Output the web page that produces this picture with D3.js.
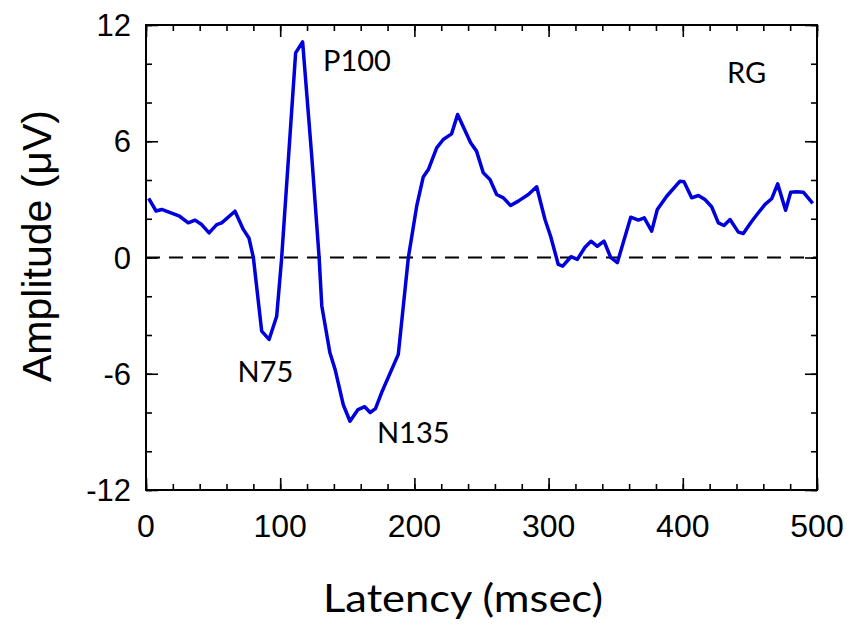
<!DOCTYPE html>
<html>
<head>
<meta charset="utf-8">
<script src="https://cdn.jsdelivr.net/npm/d3@7"></script>
<style>
  body { margin: 0; background: #fff; }
</style>
</head>
<body>
<div id="graph1"></div>
<script>
// ERP waveform data
var latency = [2, 7.5, 11.7, 16.6, 25, 31.5, 36.5, 41.5, 47, 52.7, 56.4, 66.3, 72.5, 76.7, 80,
    86.2, 91.7, 97.4, 101, 111.5, 116.7, 123.5, 129, 131, 137, 141, 147, 152, 158, 163, 167, 171, 176, 188, 195.5,
    201.7, 206.6, 210.4, 216.6, 221.5, 227.7, 232.2, 241.9, 246.3, 251.3, 256.3, 261.3, 266.3, 271.7, 277.4, 284.9, 291.1,
    297.3, 301.5, 307.2, 310.5, 316.7, 321.4, 327.1, 331.6, 336.3, 341.3, 346.3, 351.2, 361.2, 366.9, 371.3, 376.8,
    381, 388, 397.9, 400.9, 406.6, 411.6, 416.5, 421.5, 426.5, 430.7, 435.2, 441.4, 445.1, 451.4, 456.3, 461.3,
    466.2, 470.7, 476.6, 480.4, 484.8, 489.8, 496.8];
var amplitude = [3.05, 2.4, 2.48, 2.36, 2.13, 1.79, 1.93, 1.7, 1.27, 1.7, 1.79, 2.39, 1.45, 1.01, 0,
    -3.8, -4.23, -3.03, -0.1, 10.56, 11.13, 5.23, 0, -2.5, -4.9, -5.8, -7.6, -8.45, -7.85, -7.7, -8.0, -7.8, -6.9, -5.0, 0,
    2.65, 4.16, 4.54, 5.66, 6.09, 6.38, 7.38, 5.92, 5.49, 4.37, 4.03, 3.25, 3.08, 2.68, 2.91, 3.25, 3.65,
    1.96, 1.1, -0.36, -0.45, 0.04, -0.1, 0.53, 0.84, 0.58, 0.84, 0, -0.27, 2.08, 1.93, 2.05, 1.36,
    2.48, 3.16, 3.94, 3.91, 3.08, 3.2, 2.99, 2.62, 1.79, 1.65, 1.96, 1.31, 1.24, 1.87, 2.31, 2.74,
    3.03, 3.8, 2.44, 3.37, 3.39, 3.37, 2.79];

var xTicks = [0, 100, 200, 300, 400, 500];
var yTicks = [-12, -6, 0, 6, 12];
var peakNames = ["N75", "P100", "N135"];
var peakLatency = [92, 117, 152];
var peakAmplitude = [-4.23, 11.13, -8.45];

var w = 852;
var h = 627;

var svg = d3.select("#graph1")
    .append("svg")
    .attr("width", w)
    .attr("height", h);

var xScale = d3.scaleLinear().domain([0, 500]).range([146, 817]);
var yScale = d3.scaleLinear().domain([-12, 12]).range([490, 25]);

var dataset = latency.map(function (d, i) {
    return { t: d, v: amplitude[i] };
});

// frame with inward ticks on all four sides
var minorX = d3.range(0, 501, 20);
var minorY = d3.range(-12, 13, 2);

function axisSide(axis, ticks, pos) {
    return svg.append("g")
        .attr("transform", pos)
        .call(axis.tickValues(ticks).tickFormat("").tickSizeOuter(0))
        .call(function (g) {
            g.selectAll("line").attr("stroke", "#000").attr("stroke-width", 1.6);
            g.select(".domain").remove();
        });
}

// minor + major ticks
axisSide(d3.axisTop(xScale).tickSize(6), minorX, "translate(0,490)");
axisSide(d3.axisTop(xScale).tickSize(12), xTicks, "translate(0,490)");
axisSide(d3.axisBottom(xScale).tickSize(6), minorX, "translate(0,25)");
axisSide(d3.axisBottom(xScale).tickSize(12), xTicks, "translate(0,25)");
axisSide(d3.axisRight(yScale).tickSize(6), minorY, "translate(146,0)");
axisSide(d3.axisRight(yScale).tickSize(12), yTicks, "translate(146,0)");
axisSide(d3.axisLeft(yScale).tickSize(6), minorY, "translate(817,0)");
axisSide(d3.axisLeft(yScale).tickSize(12), yTicks, "translate(817,0)");

svg.append("rect")
    .attr("x", xScale(0))
    .attr("y", yScale(12))
    .attr("width", xScale(500) - xScale(0))
    .attr("height", yScale(-12) - yScale(12))
    .attr("fill", "none")
    .attr("stroke", "#000")
    .attr("stroke-width", 2);

// tick labels
svg.selectAll(".xlab")
    .data(xTicks)
    .enter()
    .append("text")
    .attr("x", function (d) { return xScale(d); })
    .attr("y", 537)
    .attr("text-anchor", "middle")
    .attr("font-family", "Liberation Sans, Arial, sans-serif")
    .attr("font-size", "32px")
    .text(function (d) { return d; });

svg.selectAll(".ylab")
    .data(yTicks)
    .enter()
    .append("text")
    .attr("x", 131)
    .attr("y", function (d) { return yScale(d) + 11; })
    .attr("text-anchor", "end")
    .attr("font-family", "Liberation Sans, Arial, sans-serif")
    .attr("font-size", "31px")
    .text(function (d) { return d; });

// zero line
svg.append("line")
    .attr("x1", xScale(0))
    .attr("x2", xScale(500))
    .attr("y1", yScale(0))
    .attr("y2", yScale(0))
    .attr("stroke", "#000")
    .attr("stroke-width", 2)
    .attr("stroke-dasharray", "14,9");

// waveform
var line = d3.line()
    .x(function (d) { return xScale(d.t); })
    .y(function (d) { return yScale(d.v); });

svg.append("path")
    .datum(dataset)
    .attr("d", line)
    .attr("fill", "none")
    .attr("stroke", "#0000dd")
    .attr("stroke-width", 3.5)
    .attr("stroke-linejoin", "round");

// peak labels
var labelDx = [-4, 20, 27];
var labelDy = [43, 29, 22];
svg.selectAll(".peak")
    .data(peakNames)
    .enter()
    .append("text")
    .attr("x", function (d, i) { return xScale(peakLatency[i]) + labelDx[i]; })
    .attr("y", function (d, i) { return yScale(peakAmplitude[i]) + labelDy[i]; })
    .attr("text-anchor", function (d, i) { return i == 0 ? "middle" : "start"; })
    .attr("font-family", "Lato, Open Sans, sans-serif")
    .attr("font-size", "29px")
    .text(function (d) { return d; });

svg.append("text")
    .attr("x", 727)
    .attr("y", 83)
    .attr("font-family", "Lato, Open Sans, sans-serif")
    .attr("font-size", "29px")
    .text("RG");

// axis titles
svg.append("text")
    .attr("x", 323)
    .attr("y", 612)
    .attr("font-family", "Lato, Open Sans, sans-serif")
    .attr("font-size", "39px")
    .attr("textLength", 280)
    .attr("lengthAdjust", "spacingAndGlyphs")
    .text("Latency (msec)");

svg.append("text")
    .attr("transform", "translate(51,246) rotate(-90)")
    .attr("text-anchor", "middle")
    .attr("font-family", "Liberation Sans, Arial, sans-serif")
    .attr("font-size", "41px")
    .text("Amplitude (\u03bcV)");
</script>
</body>
</html>
